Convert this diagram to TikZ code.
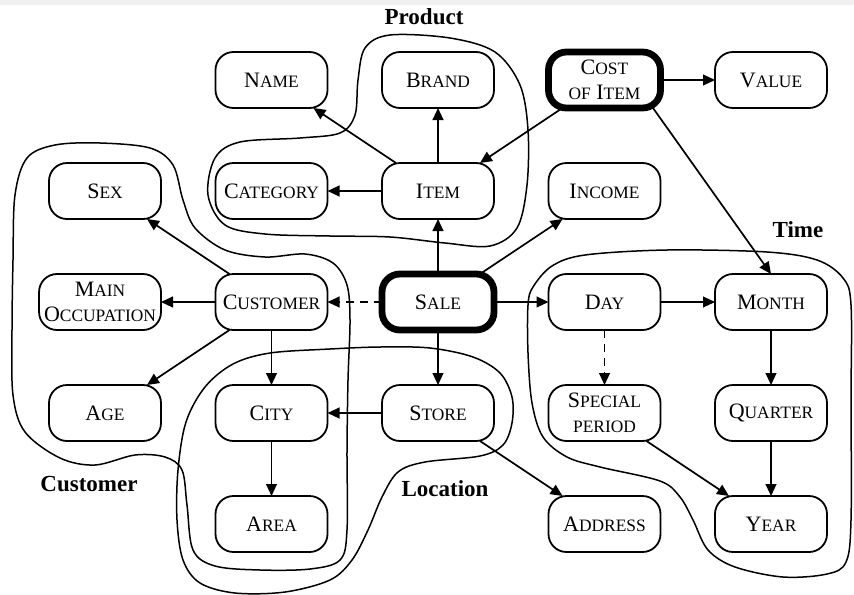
\documentclass[tikz,border=0pt]{standalone}
\usepackage{fontspec}
\setmainfont{Liberation Serif}
\usetikzlibrary{arrows.meta,positioning}

% faked small capitals
\newcommand\sca[1]{{\fontsize{8.7}{12.5}\selectfont #1}}

\begin{document}
\begin{tikzpicture}[x=0.5pt, y=-0.5pt,
  node distance=27.5pt and 27.25pt,
  box/.style={draw, line width=0.9pt, rounded corners=9pt, align=center, inner sep=2.5pt,
    outer sep=0pt, minimum width=56pt, minimum height=28pt, font=\fontsize{11}{12.5}\selectfont},
  key/.style={box, line width=3.4pt},
  grp/.style={line width=0.75pt},
  lbl/.style={font=\fontsize{11.5}{13}\selectfont\bfseries},
  ar/.style={-{Triangle[length=6pt,width=5.4pt]}, line width=0.85pt},
  dar/.style={ar, dash pattern=on 4pt off 3pt}]
\useasboundingbox (0,0) rectangle (854,594);
\fill[black!6] (0,0) rectangle (854,5);
% fact and dimension nodes
\node[key] (sale) at (438,302) {S\sca{ALE}};
\node[box, above=of sale] (item) {I\sca{TEM}};
\node[box, above=of item] (brand) {B\sca{RAND}};
\node[box, left=of brand] (name) {N\sca{AME}};
\node[box, left=of item] (category) {C\sca{ATEGORY}};
\node[box, left=of category] (sex) {S\sca{EX}};
\node[box, left=of sale] (customer) {C\sca{USTOMER}};
\node[box, left=of customer] (main) {M\sca{AIN}\\O\sca{CCUPATION}};
\node[box, below=of customer] (city) {C\sca{ITY}};
\node[box, left=of city] (age) {A\sca{GE}};
\node[box, below=of city] (area) {A\sca{REA}};
\node[box, below=of sale] (store) {S\sca{TORE}};
\node[box, right=of sale] (day) {D\sca{AY}};
\node[box, right=of day] (month) {M\sca{ONTH}};
\node[box, below=of day] (special) {S\sca{PECIAL}\\\sca{PERIOD}};
\node[box, below=of month] (quarter) {Q\sca{UARTER}};
\node[box, below=of quarter] (year) {Y\sca{EAR}};
\node[box, below=of special] (address) {A\sca{DDRESS}};
\node[box, above=of day] (income) {I\sca{NCOME}};
\node[key, above=of income] (cost) {C\sca{OST}\\\sca{OF} I\sca{TEM}};
\node[box, right=of cost] (value) {V\sca{ALUE}};
% connectors
\draw[ar] (item) -- (name);
\draw[ar] (item) -- (brand);
\draw[ar] (item) -- (category);
\draw[ar] (sale) -- (item);
\draw[ar] (sale) -- (income);
\draw[ar] (cost) -- (item);
\draw[ar] (cost) -- (value);
\draw[ar] (cost.-30) -- (month.north);
\draw[dar] (sale) -- (customer);
\draw[ar] (sale) -- (day);
\draw[ar] (sale) -- (store);
\draw[ar] (customer) -- (sex);
\draw[ar] (customer) -- (main);
\draw[ar] (customer) -- (age);
\draw[ar] (customer) -- (city);
\draw[ar] (store) -- (city);
\draw[ar] (store) -- (address);
\draw[ar] (city) -- (area);
\draw[ar] (day) -- (month);
\draw[dar] (day) -- (special);
\draw[ar] (month) -- (quarter);
\draw[ar] (quarter) -- (year);
\draw[ar] (special) -- (year);
% groups
\draw[grp] plot[smooth cycle, tension=0.55] coordinates {(390,35) (450,38) (495,52) (520,85)
  (528,130) (527,185) (517,228) (490,246) (445,243) (390,237) (330,236) (265,234) (225,225)
  (208,195) (215,158) (240,142) (300,138) (340,133) (355,115) (358,80) (365,48)};
\draw[grp] plot[smooth cycle, tension=0.55] coordinates {(100,143) (150,148) (173,165) (183,200)
  (195,228) (225,250) (265,257) (305,254) (333,263) (347,285) (350,320) (348,380) (347,450)
  (347,530) (340,560) (310,569) (260,570) (215,566) (193,550) (187,505) (182,470) (165,457)
  (135,455) (95,465) (60,458) (25,432) (13,395) (12,330) (13,260) (15,195) (27,158) (55,145)};
\draw[grp] plot[smooth cycle, tension=0.55] coordinates {(430,348) (473,357) (500,373) (512,397)
  (512,423) (503,445) (480,456) (425,462) (398,472) (382,497) (368,530) (352,560) (330,580)
  (285,592) (235,593) (200,583) (183,560) (177,520) (178,470) (186,422) (205,387) (233,364)
  (270,353) (330,349) (380,347)};
\draw[grp] plot[smooth cycle, tension=0.55] coordinates {(533,287) (552,266) (585,255) (667,250)
  (767,252) (817,260) (843,278) (851,305) (851,400) (851,520) (846,562) (827,574) (783,577)
  (735,567) (708,550) (693,520) (680,497) (660,481) (600,467) (567,457) (543,437) (532,403)
  (528,353) (528,305)};
% group labels
\node[lbl] (lprod) at (424,17) {Product};
\node[lbl] (ltime) at (798,230) {Time};
\node[lbl] (lcust) at (89,484) {Customer};
\node[lbl] (lloc) at (445,489) {Location};
\end{tikzpicture}
\end{document}
